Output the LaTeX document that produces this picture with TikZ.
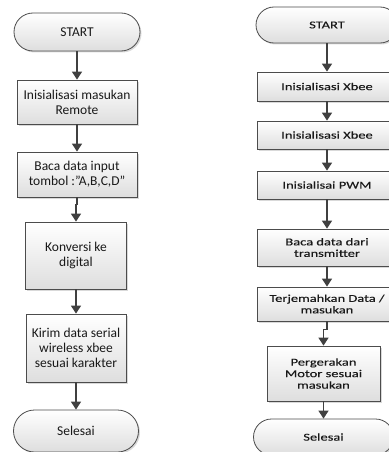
\documentclass[tikz,border=0pt]{standalone}
\usepackage{fontspec}
\setmainfont{Carlito}
\newfontfamily\rfont[FakeStretch=1.38,FakeBold=0.2]{Carlito}
\usetikzlibrary{arrows.meta,shadows,calc}
\begin{document}
\begin{tikzpicture}[x=1pt,y=-1pt,
  base/.style={draw=black!70, line width=0.8pt, top color=white, bottom color=black!13,
    drop shadow={shadow xshift=1.5pt,shadow yshift=-1.5pt,opacity=0.3},
    align=center, text=black!90, inner sep=1pt},
  lbox/.style={base, font=\fontsize{13.5}{15}\selectfont},
  rbox/.style={base, font=\rfont\fontsize{10.5}{11.5}\selectfont},
  arr/.style={draw=black!75, line width=1.4pt, -{Triangle[length=8pt,width=10pt]}}]
\useasboundingbox (0,0) rectangle (388,452);
% left flowchart
\node[lbox, rounded corners=19pt, minimum width=126pt, minimum height=38pt] (ls) at (77,32) {START};
\node[lbox, minimum width=120pt, minimum height=44pt] (l1) at (77,102) {Inisialisasi masukan\\Remote};
\node[lbox, minimum width=120pt, minimum height=45pt] (l2) at (77,174.5) {Baca data input\\tombol :”A,B,C,D”};
\node[lbox, minimum width=101pt, minimum height=67pt] (l3) at (76,255.5) {Konversi ke\\digital};
\node[lbox, minimum width=100pt, minimum height=68pt] (l4) at (76,348) {Kirim data serial\\wireless xbee\\sesuai karakter};
\node[lbox, rounded corners=21pt, minimum width=125pt, minimum height=42pt] (le) at (76,431) {Selesai};
\draw[arr] (ls.south) -- (l1.north);
\draw[arr] (l1.south) -- (l2.north);
\draw[arr] (l2.south) -- ++(0,7) -| (l3.north);
\draw[arr] (l3.south) -- (l4.north);
\draw[arr] (l4.south) -- (le.north);
% right flowchart
\node[rbox, rounded corners=18pt, minimum width=142pt, minimum height=36pt] (rs) at (327,25) {START};
\node[rbox, minimum width=140pt, minimum height=29pt] (r1) at (327,86.5) {Inisialisasi Xbee};
\node[rbox, minimum width=140pt, minimum height=28pt] (r2) at (327,135) {Inisialisasi Xbee};
\node[rbox, minimum width=140pt, minimum height=28pt] (r3) at (327,185) {Inisialisai PWM};
\node[rbox, minimum width=140pt, minimum height=37pt] (r4) at (327,247.5) {Baca data dari\\transmitter};
\node[rbox, minimum width=140pt, minimum height=34pt] (r5) at (327,304) {Terjemahkan Data /\\masukan};
\node[rbox, minimum width=113pt, minimum height=55pt] (r6) at (323.5,373.5) {Pergerakan\\Motor sesuai\\masukan};
\node[rbox, rounded corners=18pt, minimum width=140pt, minimum height=36pt] (re) at (323.5,437) {Selesai};
\draw[arr] (rs.south) -- (r1.north);
\draw[arr] (r1.south) -- (r2.north);
\draw[arr] (r2.south) -- (r3.north);
\draw[arr] (r3.south) -- (r4.north);
\draw[arr] (r4.south) -- (r5.north);
\draw[arr] (r5.south) -- ++(0,8) -| (r6.north);
\draw[arr] (r6.south) -- (re.north);
\end{tikzpicture}
\end{document}
